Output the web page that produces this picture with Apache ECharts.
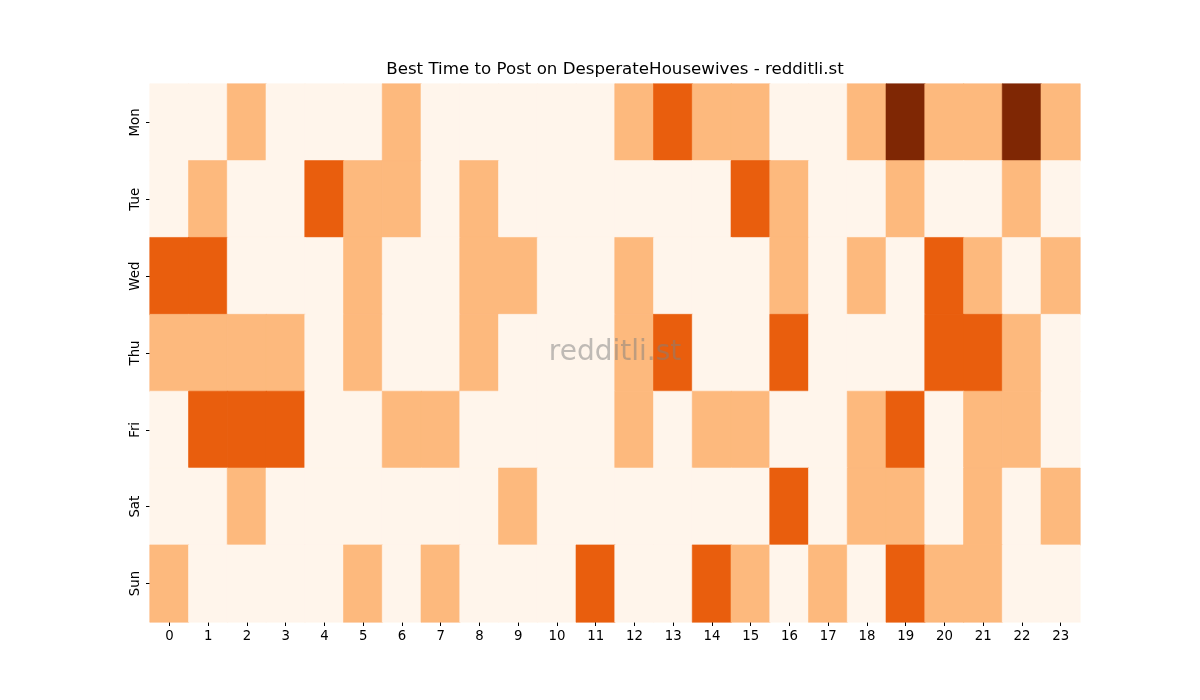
<!DOCTYPE html>
<html>
<head>
<meta charset="utf-8">
<script src="https://cdn.jsdelivr.net/npm/echarts@6/dist/echarts.min.js"></script>
<style>
  html, body { margin: 0; padding: 0; background: #fff; }
  #main { width: 1200px; height: 700px; }
</style>
</head>
<body>
<div id="main"></div>
<script>
const hours = ["0","1","2","3","4","5","6","7","8","9","10","11","12","13","14","15","16","17","18","19","20","21","22","23"]
const days = ["Mon", "Tue", "Wed", "Thu", "Fri", "Sat", "Sun"]

// activity level per hour, 0 = low .. 3 = best
const mon = [0,0,1,0,0,0,1,0,0,0,0,0,1,2,1,1,0,0,1,3,1,1,3,1]
const tue = [0,1,0,0,2,1,1,0,1,0,0,0,0,0,0,2,1,0,0,1,0,0,1,0]
const wed = [2,2,0,0,0,1,0,0,1,1,0,0,1,0,0,0,1,0,1,0,2,1,0,1]
const thu = [1,1,1,1,0,1,0,0,1,0,0,0,1,2,0,0,2,0,0,0,2,2,1,0]
const fri = [0,2,2,2,0,0,1,1,0,0,0,0,1,0,1,1,0,0,1,2,0,1,1,0]
const sat = [0,0,1,0,0,0,0,0,0,1,0,0,0,0,0,0,2,0,1,1,0,1,0,1]
const sun = [1,0,0,0,0,1,0,1,0,0,0,2,0,0,2,1,0,1,0,2,1,1,0,0]

const rows = [mon, tue, wed, thu, fri, sat, sun]
const levelColors = ["#fff5eb", "#fdb97d", "#e95e0d", "#7f2704"]

// each cell gets its level colour, border in the same colour hides the seams
const cells = []
rows.forEach((row, d) => {
  row.forEach((v, h) => {
    cells.push({
      value: [h, d, v],
      itemStyle: { color: levelColors[v], borderColor: levelColors[v], borderWidth: 0.6 },
    })
  })
})

const chart = echarts.init(document.getElementById("main"))

const option = {
  backgroundColor: "#ffffff",
  animation: false,
  textStyle: { fontFamily: "DejaVu Sans" },
  grid: { left: 150, right: 120, top: 84, bottom: 78 },
  xAxis: {
    type: "category",
    data: hours,
    axisLine: { show: false },
    axisTick: { show: true, alignWithLabel: true, length: 4, lineStyle: { color: "#000" } },
    axisLabel: { color: "#000", fontSize: 13.3, margin: 8 },
    splitLine: { show: false },
  },
  yAxis: {
    type: "category",
    data: days,
    inverse: true,
    axisLine: { show: false },
    axisTick: { show: true, alignWithLabel: true, length: 4, lineStyle: { color: "#000" } },
    axisLabel: { color: "#000", fontSize: 13.3, rotate: 90, margin: 8 },
    splitLine: { show: false },
  },
  series: [
    {
      type: "heatmap",
      data: cells,
      emphasis: { disabled: true },
    },
  ],
  graphic: [
    {
      type: "text",
      x: 615,
      y: 70,
      style: {
        text: "Best Time to Post on DesperateHousewives - redditli.st",
        align: "center",
        verticalAlign: "middle",
        fontSize: 16.67,
        fontFamily: "DejaVu Sans",
        fill: "#000",
      },
    },
    {
      type: "text",
      x: 615,
      y: 353,
      z: 100,
      style: {
        text: "redditli.st",
        align: "center",
        verticalAlign: "middle",
        fontSize: 28,
        fontFamily: "DejaVu Sans",
        fill: "rgba(128,128,128,0.5)",
      },
    },
  ],
}

option && chart.setOption(option)
</script>
</body>
</html>
